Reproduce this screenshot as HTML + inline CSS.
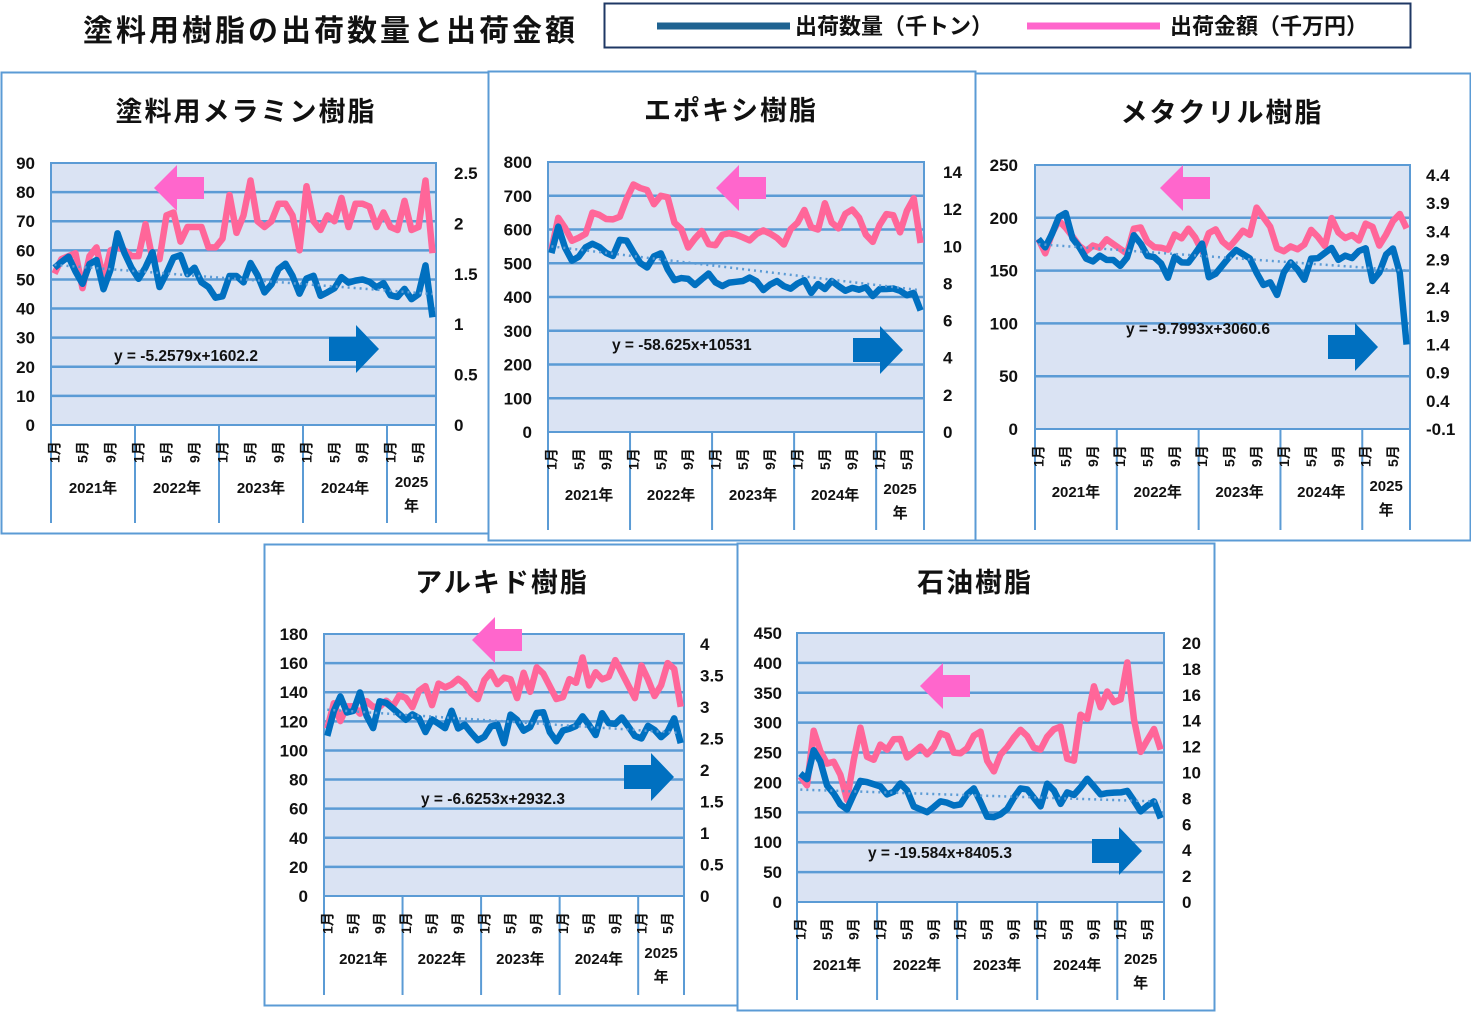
<!DOCTYPE html>
<html><head><meta charset="utf-8"><style>
html,body{margin:0;padding:0;background:#fff;}
svg{display:block;font-family:"Liberation Sans","Noto Sans CJK JP",sans-serif;}
</style></head><body>
<svg id="s" width="1471" height="1012" xmlns="http://www.w3.org/2000/svg">
<text x="83" y="41" font-size="30" font-weight="bold" fill="#111" letter-spacing="3">塗料用樹脂の出荷数量と出荷金額</text>
<rect x="604.5" y="3.5" width="806" height="44" fill="#fff" stroke="#1f3864" stroke-width="2"/>
<line x1="657" y1="26" x2="790" y2="26" stroke="#1f6391" stroke-width="7"/>
<text x="795" y="34" font-size="22" font-weight="bold" fill="#111">出荷数量（千トン）</text>
<line x1="1027" y1="26" x2="1160" y2="26" stroke="#ff66cc" stroke-width="7"/>
<text x="1170" y="34" font-size="22" font-weight="bold" fill="#111">出荷金額（千万円）</text>
</svg>
<script>
const NS="http://www.w3.org/2000/svg",S=document.getElementById('s');
function el(t,a,txt){const e=document.createElementNS(NS,t);for(const k in a)e.setAttribute(k,a[k]);if(txt!==undefined)e.textContent=txt;S.appendChild(e);return e;}
function resample(a,n){const r=[];for(let i=0;i<n;i++){const t=i*(a.length-1)/(n-1),j=Math.floor(t),f=t-j;r.push(j+1<a.length?a[j]*(1-f)+a[j+1]*f:a[j]);}return r;}
const N=55;
const P=[
{bx:1,by:72,bw:491,bh:461,title:"塗料用メラミン樹脂",tx:246,ty:121,x0:51,x1:436,y0:163,y1:425,max:90,L:[90,80,70,60,50,40,30,20,10,0],R:["2.5","2","1.5","1","0.5","0"],rx:454,lx:35,
pink:[52,57,58,59,47,58,61,50,60,61,60,58,58,69,57,57,72,73,63,68,68,68,61,61,64,79,66,72,84,70,68,70,76,76,72,60,82,70,67,72,70,78,68,76,76,75,68,73,68,67,77,67,68,84,59],
blue:[54,56,58,53,48,55,58,46,51,67,60,55,50,51,64,46,51,55,63,49,57,49,49,45,42,47,56,46,52,59,45,46,50,56,55,49,43,54,50,42,47,47,52,48,50,50,49,47,49,44,44,47,43,45,55,37],
tr:[55,45],eq:"y = -5.2579x+1602.2",ex:114,ey:361,pa:[154,188],ba:[329,349]},
{bx:488,by:71,bw:487,bh:469,title:"エポキシ樹脂",tx:731,ty:120,x0:548,x1:924,y0:162,y1:432,max:800,L:[800,700,600,500,400,300,200,100,0],R:["14","12","10","8","6","4","2","0"],rx:943,lx:532,
pink:[540,640,600,560,580,590,680,620,640,620,660,740,720,730,670,700,700,620,600,540,580,600,540,560,600,580,590,560,580,600,590,580,550,600,620,660,600,600,700,590,610,670,650,620,540,600,640,660,580,650,700,560],
blue:[530,620,520,500,540,560,550,530,520,590,550,510,480,520,530,470,440,470,430,450,470,440,430,450,440,460,450,420,440,450,420,430,460,410,440,420,460,410,430,420,430,400,430,420,430,400,420,360],
tr:[550,420],eq:"y = -58.625x+10531",ex:612,ey:350,pa:[716,188],ba:[853,350]},
{bx:975,by:73,bw:495,bh:467,title:"メタクリル樹脂",tx:1222,ty:122,x0:1035,x1:1410,y0:165,y1:429,max:250,L:[250,200,150,100,50,0],R:["4.4","3.9","3.4","2.9","2.4","1.9","1.4","0.9","0.4","-0.1"],rx:1426,lx:1018,
pink:[180,165,190,200,185,180,165,175,170,180,175,170,165,200,185,170,175,165,185,180,190,180,165,195,185,170,175,190,180,210,200,190,165,170,175,165,190,185,170,200,185,180,185,175,210,170,180,195,205,190],
blue:[180,170,195,210,180,170,155,165,160,160,150,185,175,160,165,140,165,155,160,180,140,150,160,170,165,160,135,140,125,160,155,140,165,160,175,160,165,160,180,140,150,175,165,80],
tr:[175,150],eq:"y = -9.7993x+3060.6",ex:1126,ey:334,pa:[1160,188],ba:[1328,347]},
{bx:264,by:544,bw:476,bh:461,title:"アルキド樹脂",tx:502,ty:592,x0:324,x1:684,y0:634,y1:896,max:180,L:[180,160,140,120,100,80,60,40,20,0],R:["4","3.5","3","2.5","2","1.5","1","0.5","0"],rx:700,lx:308,
pink:[115,135,115,140,120,135,130,130,135,128,145,125,140,145,130,150,140,150,148,140,135,150,155,140,160,130,155,140,160,150,140,130,150,145,165,140,160,140,165,155,145,135,165,140,135,160,160,130],
blue:[110,130,140,115,145,125,115,138,130,128,120,125,122,110,128,108,130,115,118,110,105,115,120,105,128,118,110,125,128,112,105,118,112,125,118,110,130,112,125,118,110,108,120,110,108,125,105],
tr:[128,112],eq:"y = -6.6253x+2932.3",ex:421,ey:804,pa:[472,640],ba:[624,777]},
{bx:737,by:543,bw:477,bh:467,title:"石油樹脂",tx:975,ty:592,x0:797,x1:1164,y0:633,y1:902,max:450,L:[450,400,350,300,250,200,150,100,50,0],R:["20","18","16","14","12","10","8","6","4","2","0"],rx:1182,lx:782,
pink:[210,195,290,250,230,235,210,165,250,300,230,240,270,250,280,270,230,260,260,240,270,290,270,235,260,255,300,270,200,240,255,265,290,285,265,245,275,280,310,250,210,320,290,370,320,355,335,330,410,310,250,270,290,255],
blue:[215,205,260,230,185,180,155,155,200,205,195,200,180,180,200,190,160,155,150,160,170,165,160,165,190,190,145,140,145,150,170,190,190,175,160,200,185,160,190,175,200,210,180,180,185,180,190,175,150,160,170,140],
tr:[188,168],eq:"y = -19.584x+8405.3",ex:868,ey:858,pa:[920,686],ba:[1092,851]}
];
for(const p of P){
  el('rect',{x:p.bx+0.5,y:p.by+0.5,width:p.bw,height:p.bh,fill:'#fff',stroke:'#5b9bd5','stroke-width':2});
  el('text',{x:p.tx,y:p.ty,'font-size':27,'font-weight':'bold','text-anchor':'middle',fill:'#111','letter-spacing':2},p.title);
  el('rect',{x:p.x0,y:p.y0,width:p.x1-p.x0,height:p.y1-p.y0,fill:'#dae3f3',stroke:'#5b9bd5','stroke-width':2});
  const nL=p.L.length;
  p.L.forEach((v,i)=>{const y=p.y0+(p.y1-p.y0)*i/(nL-1);
    if(i>0&&i<nL-1)el('line',{x1:p.x0,y1:y,x2:p.x1,y2:y,stroke:'#5b9bd5','stroke-width':2.5});
    el('text',{x:p.lx,y:y+6,'font-size':17,'font-weight':'bold','text-anchor':'end',fill:'#111'},v);});
  const nR=p.R.length;
  p.R.forEach((v,i)=>{const y=p.y0+10+(p.y1-p.y0-10)*i/(nR-1);
    el('text',{x:p.rx,y:y+6,'font-size':17,'font-weight':'bold',fill:'#111'},v);});
  const W=(p.x1-p.x0)/N, bot=p.by+p.bh-10;
  const X=i=>p.x0+W*(i+0.5), Y=v=>p.y1-(p.y1-p.y0)*v/p.max;
  for(let yr=0;yr<=5;yr++){const x=p.x0+Math.min(yr*12,N)*W;el('line',{x1:x,y1:p.y1,x2:x,y2:bot,stroke:'#5b9bd5','stroke-width':2});}
  el('line',{x1:p.x1,y1:p.y1,x2:p.x1,y2:bot,stroke:'#5b9bd5','stroke-width':2});
  for(let yr=0;yr<5;yr++){
    for(const m of [0,4,8]){const i=yr*12+m;if(i>=N-1&&m>0)continue;if(yr==4&&m==8)continue;
      const x=X(i)+5,y=p.y1+38;
      el('text',{x:x,y:y,'font-size':14,'font-weight':'bold',fill:'#111',transform:`rotate(-90 ${x} ${y})`},(m+1)+'月');}
    const cx=p.x0+(yr*12+ (yr<4?6:3.5))*W;
    if(yr<4)el('text',{x:cx,y:p.y1+68,'font-size':15,'font-weight':'bold','text-anchor':'middle',fill:'#111'},(2021+yr)+'年');
    else{el('text',{x:cx,y:p.y1+62,'font-size':15,'font-weight':'bold','text-anchor':'middle',fill:'#111'},'2025');
      el('text',{x:cx,y:p.y1+86,'font-size':15,'font-weight':'bold','text-anchor':'middle',fill:'#111'},'年');}
  }
  const pk=resample(p.pink,N), bl=resample(p.blue,N);
  el('polyline',{points:pk.map((v,i)=>X(i)+','+Y(v)).join(' '),fill:'none',stroke:'#ff6699','stroke-width':6.5,'stroke-linejoin':'round'});
  el('polyline',{points:bl.map((v,i)=>X(i)+','+Y(v)).join(' '),fill:'none',stroke:'#0070c0','stroke-width':6.5,'stroke-linejoin':'round'});
  el('line',{x1:X(0),y1:Y(p.tr[0]),x2:X(N-1),y2:Y(p.tr[1]),stroke:'#5b9bd5','stroke-width':2.5,'stroke-dasharray':'2 4'});
  el('text',{x:p.ex,y:p.ey,'font-size':15.5,'font-weight':'bold',fill:'#111'},p.eq);
  const [ax,ay]=p.pa;
  el('polygon',{points:`${ax},${ay} ${ax+23},${ay-23} ${ax+23},${ay-11} ${ax+50},${ay-11} ${ax+50},${ay+11} ${ax+23},${ay+11} ${ax+23},${ay+23}`,fill:'#ff66cc'});
  const [bx,by]=p.ba;
  el('polygon',{points:`${bx},${by-12} ${bx+27},${by-12} ${bx+27},${by-24} ${bx+50},${by} ${bx+27},${by+24} ${bx+27},${by+12} ${bx},${by+12}`,fill:'#0070c0'});
}
</script>
</body></html>
